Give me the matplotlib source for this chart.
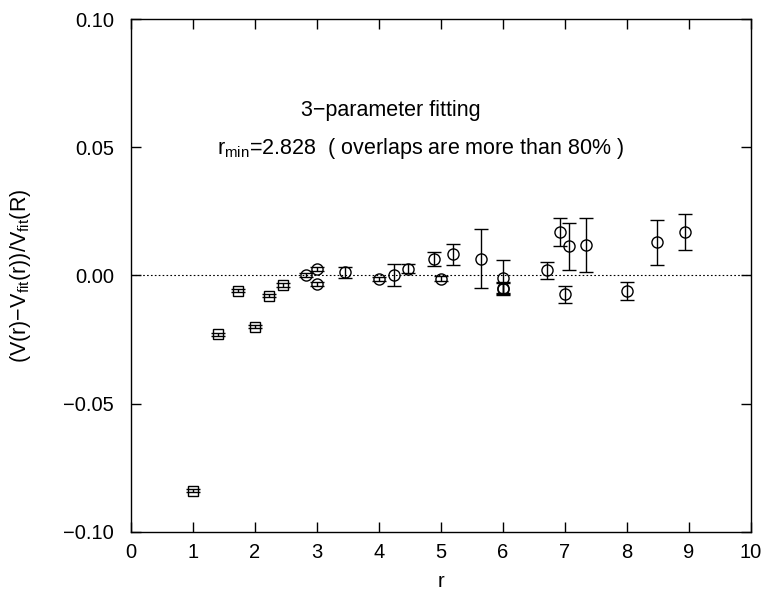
import matplotlib.pyplot as plt
from matplotlib.ticker import MultipleLocator, FuncFormatter

plt.rcParams['font.family'] = ['Liberation Sans', 'DejaVu Sans']
plt.rcParams['mathtext.fontset'] = 'custom'
plt.rcParams['mathtext.rm'] = 'Liberation Sans'
plt.rcParams['mathtext.it'] = 'Liberation Sans'
plt.rcParams['mathtext.default'] = 'rm'

# squares: small r
sq_r = [1.0, 1.414, 1.732, 2.0, 2.236, 2.449]
sq_v = [-0.0839, -0.0230, -0.0060, -0.0200, -0.0079, -0.0037]
sq_e = [0.0006, 0.0006, 0.0006, 0.0006, 0.0006, 0.0006]

# circles: larger r
ci_r = [2.828, 3.0, 3.0, 3.464, 4.0, 4.243, 4.472, 4.899, 5.0, 5.196,
        5.657, 6.0, 6.0, 6.0, 6.708, 6.928, 7.0, 7.071, 7.348, 8.0,
        8.485, 8.944]
ci_v = [0.0002, 0.0026, -0.0033, 0.0012, -0.0014, 0.0001, 0.0027, 0.0064, -0.0012, 0.0082,
        0.0066, -0.0008, -0.0048, -0.0052, 0.0021, 0.0170, -0.0073, 0.0114, 0.0118, -0.0061,
        0.0129, 0.0168]
ci_e = [0.0008, 0.0009, 0.0009, 0.0021, 0.0008, 0.0042, 0.0017, 0.0027, 0.0009, 0.0040,
        0.0114, 0.0068, 0.0021, 0.0021, 0.0033, 0.0056, 0.0033, 0.0092, 0.0105, 0.0036,
        0.0087, 0.0070]

fig = plt.figure(figsize=(7.65, 5.92), dpi=100)
ax = fig.add_axes([0.1709, 0.1014, 0.8104, 0.8665])

ax.errorbar(sq_r, sq_v, yerr=sq_e, fmt='s', mfc='none', mec='black', ms=7,
            mew=1.0, ecolor='black', elinewidth=1.0, capsize=5, capthick=1.0)
ax.errorbar(ci_r, ci_v, yerr=ci_e, fmt='o', mfc='none', mec='black', ms=8,
            mew=1.0, ecolor='black', elinewidth=1.0, capsize=5, capthick=1.0)

ax.axhline(0.0, color='black', lw=0.8, ls=(0, (1.5, 2)))

ax.set_xlim(0, 10)
ax.set_ylim(-0.10, 0.10)
ax.xaxis.set_major_locator(MultipleLocator(1))
ax.yaxis.set_major_locator(MultipleLocator(0.05))
ax.yaxis.set_major_formatter(FuncFormatter(lambda v, p: ('%.2f' % v).replace('-', '\u2212')))
ax.tick_params(which='both', direction='in', top=True, right=True,
               length=7, width=1.0, labelsize=14.5, pad=8)
ax.tick_params(axis='y', pad=12)
for s in ax.spines.values():
    s.set_linewidth(1.0)

ax.set_xlabel('r', fontsize=14.5, labelpad=7)
ax.set_ylabel(r'(V(r)$-$V$_{\rm fit}$(r))/V$_{\rm fit}$(R)', fontsize=15.5)
ax.yaxis.set_label_coords(-0.158, 0.5)

ax.text(2.74, 0.0644, '3\u2212parameter fitting', fontsize=15.5, va='center')
ax.text(1.39, 0.0496, r'r$_{\rm min}$=2.828  ( overlaps are more than 80% )',
        fontsize=15.5, va='center')

fig.savefig('out.png', dpi=100)
